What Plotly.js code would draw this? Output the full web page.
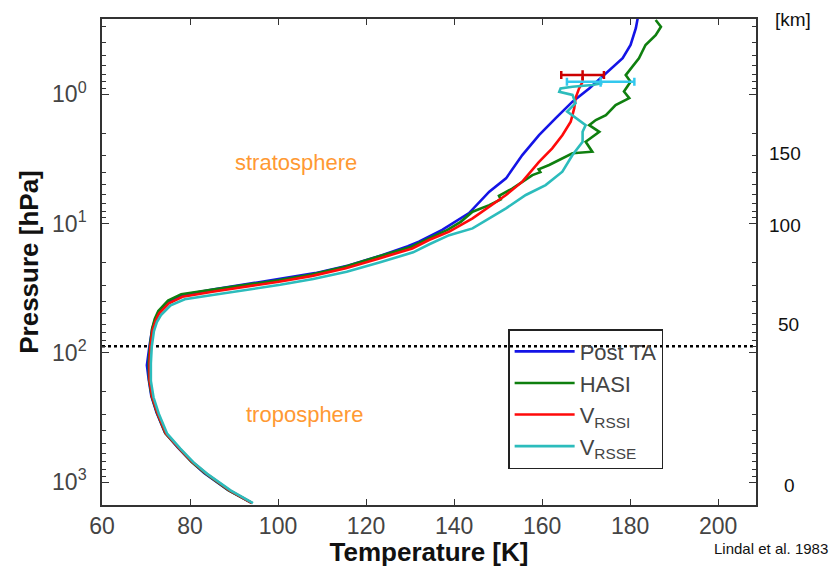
<!DOCTYPE html>
<html><head><meta charset="utf-8">
<script src="https://cdn.plot.ly/plotly-3.0.1.min.js"></script>
<style>html,body{margin:0;padding:0;background:#fff;} #chart{width:832px;height:567px;}</style>
</head><body><div id="chart"></div>
<script>
// ---- data ----
const seriesNames = ['Post TA', 'HASI', 'V<sub>RSSI</sub>', 'V<sub>RSSE</sub>'];
const seriesColors = ['#1414e6', '#0f7f0f', '#ff0a0a', '#2cbcbc'];

const postTA_T = [94.0, 88.6, 83.2, 80.2, 77.2, 74.3, 72.4, 71.2, 70.6, 70.2, 70.8, 71.4, 72.1, 73.0, 75.3, 78.6, 85.5, 93.2, 100.8, 108.4, 116.0, 123.6, 129.5, 132.0, 137.3, 143.4, 148.0, 151.8, 155.5, 159.3, 163.1, 166.9, 170.7, 174.5, 178.3, 180.1, 181.3, 181.7];
const postTA_P = [1450, 1150, 850, 690, 540, 415, 290, 216, 160, 125, 88, 65.5, 55, 48.5, 40.5, 35.6, 32.3, 29.4, 26.9, 24.2, 21.1, 17.6, 15.0, 13.8, 11.2, 8.3, 5.67, 4.47, 2.95, 2.07, 1.53, 1.14, 0.90, 0.687, 0.526, 0.415, 0.308, 0.26];

const hasi_T = [94.0, 88.8, 83.5, 80.4, 77.4, 74.4, 72.5, 71.3, 70.7, 70.6, 70.9, 71.4, 72.0, 72.8, 75.0, 78.0, 84.8, 92.5, 100.0, 107.6, 115.2, 122.8, 130.3, 134.5, 138.5, 141.5, 144.2, 148.0, 150.6, 150.2, 153.3, 157.8, 159.6, 159.2, 161.6, 166.9, 171.4, 169.9, 173.0, 170.7, 172.2, 174.5, 176.7, 179.8, 178.6, 180.1, 179.0, 182.0, 183.5, 185.8, 187.0, 185.8];
const hasi_P = [1450, 1160, 860, 700, 545, 420, 292, 218, 162, 119, 89, 65, 54.5, 47.5, 39.5, 35.3, 32.5, 30.0, 27.5, 24.8, 21.6, 18.0, 15.1, 12.9, 11.2, 9.7, 8.1, 7.2, 6.5, 6.1, 5.34, 4.22, 4.0, 3.8, 3.52, 2.86, 2.78, 2.33, 1.95, 1.73, 1.58, 1.45, 1.21, 1.07, 0.95, 0.80, 0.71, 0.526, 0.415, 0.348, 0.30, 0.266];

const rssi_T = [94.1, 88.9, 83.6, 80.5, 77.5, 74.5, 72.6, 71.4, 70.8, 70.8, 71.0, 71.5, 72.2, 73.0, 75.2, 78.3, 85.1, 92.7, 100.2, 107.8, 115.4, 123.0, 130.5, 134.3, 138.9, 144.2, 151.8, 155.5, 159.3, 162.3, 164.6, 166.5, 167.3, 167.6, 168.4, 169.2, 169.2];
const rssi_P = [1455, 1156, 857, 698, 547, 419, 293, 219, 163, 120, 89.7, 66.7, 56.2, 49.5, 41.5, 36.9, 33.7, 30.8, 28.2, 25.4, 22.2, 18.6, 15.6, 13.4, 11.56, 9.12, 6.01, 4.74, 3.33, 2.62, 2.07, 1.63, 1.28, 1.07, 0.90, 0.80, 0.73];

const rsse_T = [94.3, 89.2, 83.9, 80.8, 77.8, 74.8, 72.9, 71.7, 71.1, 71.1, 71.3, 71.8, 72.5, 73.4, 75.6, 78.8, 85.5, 93.0, 100.5, 108.0, 115.6, 123.2, 130.7, 134.5, 138.9, 144.2, 151.8, 156.3, 160.8, 164.6, 166.9, 169.2, 169.2, 169.9, 167.6, 165.7, 167.6, 166.9, 163.9, 164.2, 166.9, 171.4, 173.7];
const rsse_P = [1460, 1160, 865, 705, 552, 423, 296, 221, 165, 121, 90, 68, 57.5, 51, 43, 38.5, 35.5, 32.5, 29.8, 26.9, 23.6, 19.9, 16.7, 14.4, 12.3, 10.9, 7.62, 6.01, 5.04, 3.97, 2.95, 2.33, 1.95, 1.73, 1.53, 1.36, 1.17, 1.01, 0.955, 0.90, 0.873, 0.847, 0.82];

// error bars (V_RSSI, V_RSSE)
const errT = [169.2, 173.3];
const errP = [0.71, 0.80];
const errHalf = [4.85, 7.66];
const errColors = ['#cc0000', '#33c8ee'];

const tropopauseP = 89;
const xTickVals = [60, 80, 100, 120, 140, 160, 180, 200];
const yTickVals = [1, 10, 100, 1000];
const yTickText = ['10<sup>0</sup>', '10<sup>1</sup>', '10<sup>2</sup>', '10<sup>3</sup>'];
const yMinorVals = [0.3,0.4,0.5,0.6,0.7,0.8,0.9, 2,3,4,5,6,7,8,9, 20,30,40,50,60,70,80,90, 200,300,400,500,600,700,800,900];
const kmText = ['[km]', '150', '100', '50', '0'];
const kmP = [0.265, 2.86, 10.3, 60, 1070];
const kmX = [1.057, 1.0445, 1.0445, 1.049, 1.0505];

const regionText = ['stratosphere', 'troposphere'];
const regionT = [104.1, 105.9];
const regionP = [3.35, 300];

const xRange = [60, 208.6];
const yRangeLog = [3.178, -0.583];

// ---- traces ----
const Ts = [postTA_T, hasi_T, rssi_T, rsse_T];
const Ps = [postTA_P, hasi_P, rssi_P, rsse_P];
const traces = [];
traces.push({x: xRange, y: [tropopauseP, tropopauseP], mode: 'lines', showlegend: false,
  line: {color: '#000', width: 2.5, dash: 'dot'}, hoverinfo: 'skip'});
for (let i = 0; i < 4; i++) {
  traces.push({x: Ts[i], y: Ps[i], name: seriesNames[i], mode: 'lines',
    line: {color: seriesColors[i], width: 2.6}});
}
for (let i = 0; i < errT.length; i++) {
  traces.push({x: [errT[i]], y: [errP[i]], mode: 'markers', showlegend: false,
    marker: {symbol: 'line-ns', size: 7, color: errColors[i], line: {color: errColors[i], width: 2.5}},
    error_x: {type: 'data', array: [errHalf[i]], color: errColors[i], thickness: 2.5, width: 4}});
}

const font = 'Liberation Sans, Arial, sans-serif';
const annotations = [];
for (let i = 0; i < kmText.length; i++) {
  annotations.push({xref: 'paper', yref: 'y', x: kmX[i], y: Math.log10(kmP[i]), text: kmText[i],
    showarrow: false, xanchor: 'center', yanchor: 'middle',
    font: {family: font, size: 19, color: '#111'}});
}
for (let i = 0; i < regionText.length; i++) {
  annotations.push({xref: 'x', yref: 'y', x: regionT[i], y: Math.log10(regionP[i]), text: regionText[i],
    showarrow: false, font: {family: font, size: 22, color: '#ff9933'}});
}
annotations.push({xref: 'paper', yref: 'paper', x: 1.1135, y: -0.0905, xanchor: 'right', yanchor: 'middle',
  text: 'Lindal et al. 1983', showarrow: false,
  font: {family: font, size: 15, color: '#111'}});

const layout = {
  width: 832, height: 567,
  margin: {l: 102, r: 76, t: 19, b: 62},
  paper_bgcolor: '#fff', plot_bgcolor: '#fff',
  font: {family: font, color: '#444'},
  showlegend: true,
  legend: {x: 0.621, y: 0.362, xanchor: 'left', yanchor: 'top',
    bgcolor: 'rgba(255,255,255,0)', bordercolor: '#222', borderwidth: 1.5,
    font: {size: 22, color: '#444'}, itemwidth: 60, tracegroupgap: 0},
  xaxis: {range: xRange, tickmode: 'array', tickvals: xTickVals, ticks: 'inside', ticklen: 6,
    tickcolor: '#333', showline: true, linecolor: '#333', linewidth: 1.8, mirror: 'ticks',
    showgrid: false, zeroline: false, tickfont: {size: 23, color: '#444'},
    title: {text: '<b>Temperature [K]</b>', font: {size: 26, color: '#111'}, standoff: 4}},
  yaxis: {type: 'log', range: yRangeLog, tickmode: 'array', tickvals: yTickVals, ticktext: yTickText,
    ticks: 'inside', ticklen: 7, tickcolor: '#333', showline: true, linecolor: '#333', linewidth: 1.8,
    mirror: 'ticks', showgrid: false, zeroline: false, tickfont: {size: 23, color: '#444'},
    ticklabelstandoff: 9,
    minor: {tickmode: 'array', tickvals: yMinorVals, ticks: 'inside', ticklen: 4, tickcolor: '#333', showgrid: false},
    title: {text: '<b>Pressure [hPa]</b>', font: {size: 26, color: '#111'}, standoff: 6}},
  annotations: annotations
};

Plotly.newPlot('chart', traces, layout, {staticPlot: true, displayModeBar: false});
</script>
</body></html>
